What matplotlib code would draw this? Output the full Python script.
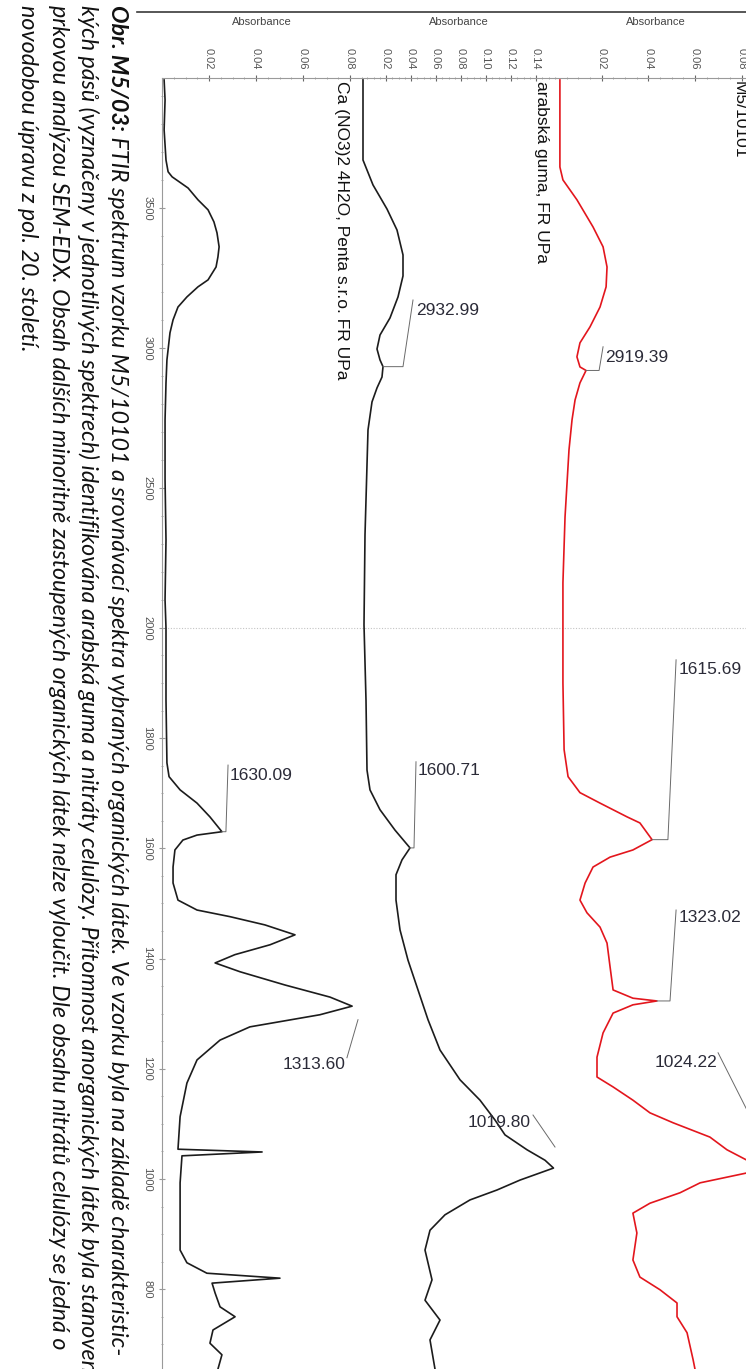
import numpy as np
import matplotlib
matplotlib.use("Agg")
import matplotlib.pyplot as plt
from matplotlib.lines import Line2D

# ---------------------------------------------------------------- data
# Ca(NO3)2 . 4H2O reference spectrum
ca_wn = [3957, 3886, 3779, 3671, 3629, 3611, 3571, 3529, 3493, 3450, 3411, 3361,
         3325, 3289, 3243, 3218, 3182, 3146, 3100, 3054, 2957, 2875, 2743, 2529,
         2314, 2100, 2000, 1869, 1755, 1730, 1706, 1682, 1657, 1630.09, 1624, 1615,
         1597, 1566, 1537, 1506, 1488, 1476, 1461, 1443, 1425, 1407, 1392, 1376,
         1352, 1330, 1313.60, 1298, 1276, 1252, 1216, 1174, 1113, 1054, 1049, 1042,
         993, 871, 848, 829, 820, 811, 793, 768, 750, 726, 702, 681, 655]
ca_abs = [.0009, .0013, .0009, .0017, .0026, .0043, .0111, .0153, .0196, .0221, .0234, .0243,
          .0238, .0230, .0196, .0153, .0106, .0068, .0047, .0034, .0021, .0017, .0013, .0013,
          .0017, .0013, .0017, .0017, .0021, .0030, .0077, .0149, .0204, .0255, .0149, .0089,
          .0055, .0047, .0047, .0068, .0149, .0289, .0438, .0566, .0460, .0310, .0226, .0332,
          .0523, .0715, .0809, .0672, .0374, .0247, .0149, .0106, .0077, .0068, .0426, .0085,
          .0077, .0077, .0106, .0191, .0502, .0213, .0226, .0247, .0311, .0217, .0204, .0255, .0238]

# gum arabic reference spectrum
gum_wn = [3957, 3671, 3582, 3496, 3421, 3332, 3257, 3182, 3107, 3046, 2996, 2957,
          2932.99, 2896, 2857, 2807, 2707, 2582, 2332, 2011, 1869, 1742, 1706, 1670,
          1633, 1600.71, 1579, 1552, 1506, 1452, 1397, 1343, 1289, 1234, 1180, 1143,
          1107, 1080, 1053, 1034, 1019.80, 998, 980, 962, 935, 907, 871, 817, 780,
          744, 708, 655]
gum_abs = [.0016, .0016, .0096, .0208, .0288, .0336, .0336, .0296, .0232, .0152, .0128, .0152,
           .0176, .0168, .0128, .0088, .0056, .0048, .0032, .0024, .0040, .0048, .0072, .0152,
           .0272, .0392, .0328, .0280, .0280, .0312, .0376, .0456, .0536, .0632, .0792, .0952,
           .1072, .1152, .1328, .1472, .1540, .1272, .1088, .0872, .0672, .0552, .0512, .0568,
           .0512, .0632, .0552, .0592]

# sample M5/10101
smp_wn = [3957, 3646, 3600, 3529, 3432, 3361, 3289, 3218, 3146, 3075, 3018, 2968,
          2932, 2919.39, 2875, 2814, 2743, 2636, 2396, 2161, 1996, 1900, 1779, 1730,
          1701, 1682, 1657, 1646, 1615.69, 1597, 1584, 1566, 1537, 1506, 1483, 1457,
          1428, 1385, 1343, 1328, 1323.02, 1316, 1301, 1265, 1221, 1185, 1167, 1143,
          1120, 1102, 1076, 1053, 1034, 1024.22, 1011, 993, 975, 956, 938, 902, 853,
          822, 799, 775, 750, 721, 672, 655]
smp_abs = [.0021, .0021, .0034, .0094, .0163, .0206, .0223, .0219, .0193, .0150, .0107, .0094,
           .0107, .0133, .0107, .0086, .0073, .0060, .0043, .0034, .0034, .0034, .0039, .0056,
           .0107, .0193, .0309, .0364, .0416, .0334, .0236, .0163, .0129, .0107, .0137, .0193,
           .0223, .0236, .0249, .0334, .0437, .0334, .0249, .0206, .0180, .0180, .0249, .0334,
           .0407, .0506, .0664, .0737, .0823, .0887, .0823, .0622, .0536, .0407, .0334, .0351,
           .0334, .0364, .0450, .0523, .0523, .0566, .0592, .0600]

panel_titles = ["Ca (NO3)2 4H2O, Penta s.r.o. FR UPa", "arabská guma, FR UPa", "M5/10101"]
abs_ticks = [[0.02, 0.04, 0.06, 0.08],
             [0.02, 0.04, 0.06, 0.08, 0.10, 0.12, 0.14],
             [0.02, 0.04, 0.06, 0.08]]
wn_ticks = [3500, 3000, 2500, 2000, 1800, 1600, 1400, 1200, 1000, 800]

# peak markers: (peak wn, peak abs, knee abs, end abs, end wn, text abs, text wn, align)
ca_peaks = [(1630.09, .0255, .0272, .0281, 1751, .0289, 1733, "left"),
            (1313.60, None, None, .0787, 1220, .0779, 1207, "right")]
gum_peaks = [(2932.99, .0176, .0336, .0416, 3171, .0440, 3132, "left"),
             (1600.71, .0392, .0424, .0440, 1757, .0456, 1742, "left"),
             (1019.80, None, None, .1376, 1116, .1360, 1102, "right")]
smp_peaks = [(2919.39, .0133, .0189, .0206, 3004, .0214, 2964, "left"),
             (1615.69, .0416, .0484, .0519, 1942, .0532, 1924, "left"),
             (1323.02, .0437, .0493, .0519, 1488, .0532, 1474, "left"),
             (1024.22, None, None, .0699, 1229, .0694, 1211, "right")]
diag_targets = {1313.60: (.0834, 1289), 1019.80: (.1552, 1058), 1024.22: (.0823, 1125)}

caption_bold = "Obr. M5/03:"
caption_lines = [
    " FTIR spektrum vzorku M5/10101 a srovnávací spektra vybraných organických látek. Ve vzorku byla na základě charakteristic-",
    "kých pásů (vyznačeny v jednotlivých spektrech) identifikována arabská guma a nitráty celulózy. Přítomnost anorganických látek byla stanovena",
    "prkovou analýzou SEM-EDX. Obsah dalších minoritně zastoupených organických látek nelze vyloučit. Dle obsahu nitrátů celulózy se jedná o",
    "novodobou úpravu z pol. 20. století.",
]

# ---------------------------------------------------------------- layout
W, H = 746, 1369
fig = plt.figure(figsize=(W / 100, H / 100), dpi=100)
plt.rcParams['font.family'] = ['Liberation Sans', 'DejaVu Sans']


def fx(x):
    return x / W


def fy(y):
    return 1 - y / H


# wavenumber axis: region above 2000 cm-1 is compressed
R = 0.508


def fwd(w):
    w = np.asarray(w, float)
    return np.where(w > 2000, 2000 + (w - 2000) * R, w)


def inv(u):
    u = np.asarray(u, float)
    return np.where(u > 2000, 2000 + (u - 2000) / R, u)


WN_TOP, WN_BOT = 3964, 655.2
TOP_PX = 78
AX_GRAY = '#9a9a9a'
TICK_GRAY = '#555555'

# (left px, right px, zero px, px per absorbance unit, title px)
panels = [(162, 362, 162, 2350, 342), (362, 556, 361, 1250, 541), (556, 756, 555, 2333, 739)]
series = [(ca_wn, ca_abs, '#1c1c1c', ca_peaks),
          (gum_wn, gum_abs, '#1c1c1c', gum_peaks),
          (smp_wn, smp_abs, '#e3161d', smp_peaks)]

for i, ((x0, x1, z, s, tx), (wn, ab, col, peaks)) in enumerate(zip(panels, series)):
    ax = fig.add_axes([fx(x0), 0, (x1 - x0) / W, (H - TOP_PX) / H])
    ax.set_yscale('function', functions=(fwd, inv))
    ax.set_xlim((x0 - z) / s, (x1 - z) / s)
    ax.set_ylim(WN_BOT, WN_TOP)
    ax.patch.set_alpha(0)
    for side in ('right', 'bottom'):
        ax.spines[side].set_visible(False)
    ax.spines['top'].set_color(AX_GRAY)
    ax.spines['top'].set_linewidth(0.8)
    ax.spines['left'].set_visible(i == 0)
    ax.spines['left'].set_color(AX_GRAY)
    ax.spines['left'].set_linewidth(0.8)

    # absorbance axis on top
    ax.xaxis.tick_top()
    ax.set_xticks(abs_ticks[i])
    ax.set_xticklabels([f"{t:.2f}" for t in abs_ticks[i]], rotation=-90,
                       fontsize=8, color=TICK_GRAY)
    lo, hi = ax.get_xlim()
    ax.set_xticks(np.arange(0.005, hi, 0.005), minor=True)
    ax.tick_params(axis='x', which='major', direction='inout', length=4,
                   width=0.8, color='#666666', pad=4)
    ax.tick_params(axis='x', which='minor', direction='inout', length=2,
                   width=0.6, color=AX_GRAY)

    if i == 0:
        ax.set_yticks(wn_ticks)
        ax.set_yticklabels([str(t) for t in wn_ticks], rotation=-90,
                           fontsize=8, color=TICK_GRAY, va='center')
        minor = list(range(3900, 2000, -100)) + list(range(1950, 650, -50))
        ax.set_yticks([m for m in minor if m not in wn_ticks], minor=True)
        ax.tick_params(axis='y', which='major', direction='inout', length=4,
                       width=0.8, color=AX_GRAY, pad=5)
        ax.tick_params(axis='y', which='minor', direction='inout', length=2,
                       width=0.6, color=AX_GRAY)
    else:
        ax.set_yticks([])
        ax.set_yticks([], minor=True)

    ax.axhline(2000, color='#c4c4c4', lw=0.8, ls=(0, (1, 1.5)))

    ax.plot(ab, wn, color=col, lw=1.2, solid_joinstyle='round')

    # peak markers
    for (pw, pa, ka, ea, ew, ta, tw, ha) in peaks:
        if pa is None:
            da, dw = diag_targets[pw]
            ax.plot([ea, da], [ew, dw], color='#6a6a6a', lw=0.7, clip_on=False)
        else:
            ax.plot([pa, ka, ea], [pw, pw, ew], color='#6a6a6a', lw=0.7, clip_on=False)
        ax.text(ta, tw, f"{pw:.2f}", ha=ha, va='center', fontsize=12.5,
                color='#2b2b38')

    # panel title
    ax.text((tx - z) / s, WN_TOP - 10, panel_titles[i], rotation=-90,
            ha='center', va='top', fontsize=12.5, color='#111111')

    # axis caption above each panel
    fig.text(fx((x0 + x1) / 2), fy(22), "Absorbance", ha='center', va='center',
             fontsize=8, color='#444444')

# frame line above the plot block
fig.add_artist(Line2D([fx(137), fx(746)], [fy(12), fy(12)], color='#3a3a3a', lw=1.2))

# ---------------------------------------------------------------- caption
cap_family = ['Lato', 'DejaVu Sans']
col_x = [117, 88, 58, 27]
renderer = fig.canvas.get_renderer()

# size the caption so the second line runs down to the lower edge
probe = fig.text(0, 0, caption_lines[1], rotation=-90, fontsize=12,
                 family=cap_family, style='italic')
length = probe.get_window_extent(renderer=renderer).height
probe.remove()
cap_fs = 12 * 1372 / length

bold = fig.text(fx(col_x[0]), fy(5), caption_bold, rotation=-90, ha='center', va='top',
                fontsize=cap_fs, family=cap_family, style='italic', weight='bold',
                color='#111111')
bl = bold.get_window_extent(renderer=renderer).height
for k, line in enumerate(caption_lines):
    y0 = 5 + (bl if k == 0 else 0)
    fig.text(fx(col_x[k]), fy(y0), line, rotation=-90, ha='center', va='top',
             fontsize=cap_fs, family=cap_family, style='italic', color='#111111')

fig.savefig("out.png", dpi=100)
